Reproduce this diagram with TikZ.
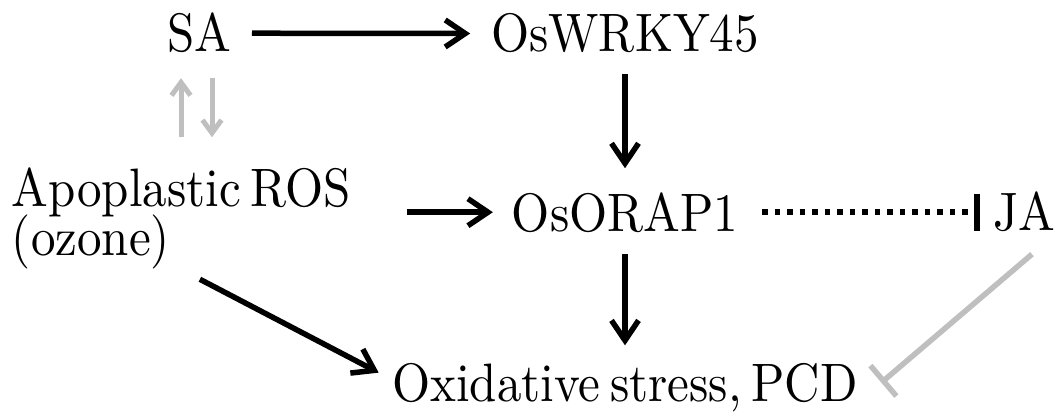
\documentclass[tikz,border=0pt]{standalone}
\usepackage{fontspec}
\setmainfont{lmroman10-regular}[Extension=.otf, WordSpace=0.6]
\usetikzlibrary{arrows.meta,calc}
\definecolor{lightgrey}{RGB}{191,191,191}
% slightly taller lettering
\newcommand{\lbl}[1]{\scalebox{1}[1.105]{#1}}

\begin{document}
\begin{tikzpicture}[x=1pt,y=-1pt,
  txt/.style={inner sep=0pt, outer sep=0pt, font=\rmfamily\fontsize{49}{40.7}\selectfont},
  act/.style={line width=5.5pt, -{Straight Barb[length=20pt,width=27pt]}},
  gact/.style={draw=lightgrey, line width=5pt, -{Straight Barb[length=13pt,width=19pt]}},
  dotinh/.style={line width=5.5pt, dash pattern=on 5.5pt off 7pt, -{Bar[width=37pt,line width=6pt]}},
  ginh/.style={draw=lightgrey, line width=5.5pt, -{Bar[width=40pt]}}]
\useasboundingbox (0,0) rectangle (1064,412);

% labels
\node[txt, anchor=base west] (sa)   at (167,52)  {\lbl{SA}};
\node[txt, anchor=base]      (wrky) at (625,52)  {\lbl{OsWRKY45}};
\node[txt, anchor=base west] (ros)  at (12,206)
  {\lbl{\vtop{\baselineskip=45pt\lineskiplimit=-\maxdimen
    \hbox{Apoplastic ROS}\hbox{(ozone)}}}};
\node[txt, anchor=base]      (orap) at (625,231) {\lbl{OsORAP1}};
\node[txt, anchor=base west] (ja)   at (993,230) {\lbl{JA}};
\node[txt, anchor=base]      (oxi)  at (625,401.5) {\lbl{Oxidative stress, PCD}};

% activation arrows
\draw[act] ($(sa.east)+(21,0)$) -- ($(wrky.west)+(-21,0)$);
\draw[act] ($(wrky.south)+(0,21)$) -- ($(orap.north)+(0,-24)$);
\draw[act] ($(orap.south)+(0,22)$) -- ($(oxi.north)+(0,-18)$);
\draw[act] ($(ros.east |- orap.west)+(56,0)$) -- ($(orap.west)+(-19,0)$);
\draw[act] ($(ros.south)+(18.5,10)$) -- ($(oxi.west)+(-13.5,-15)$);

% SA <-> ROS feedback
\draw[gact] ($(ros.north -| sa.south)+(-18,-30)$) -- ($(sa.south)+(-18,25)$);
\draw[gact] ($(sa.south)+(13,25)$) -- ($(ros.north -| sa.south)+(13,-30)$);

% inhibitions
\draw[dotinh] ($(orap.east)+(24,0)$) -- ($(orap.east -| ja.west)+(-13,0)$);
\draw[ginh] ($(ja.south)+(8,23)$) -- ($(oxi.east)+(23.5,-5)$);
\end{tikzpicture}
\end{document}
